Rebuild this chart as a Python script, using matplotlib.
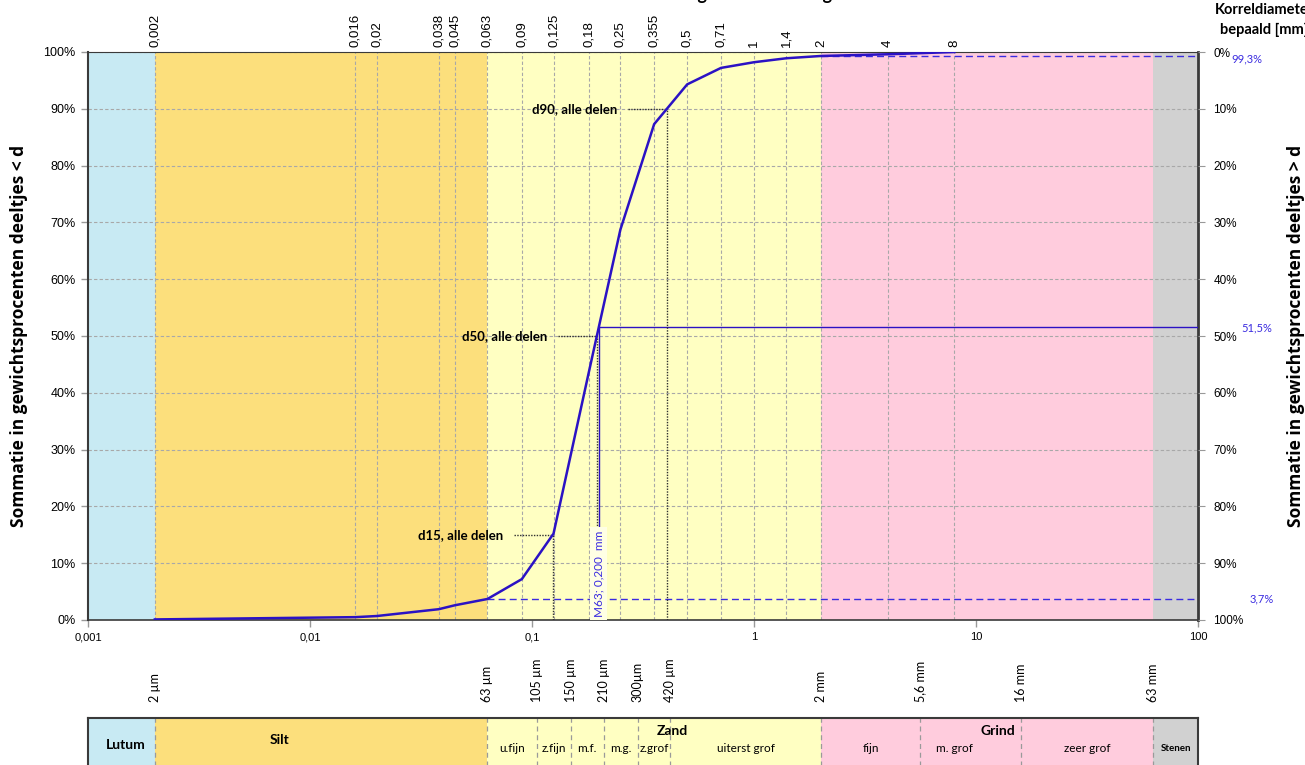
import numpy as np
import matplotlib
matplotlib.use("Agg")
import matplotlib.pyplot as plt
from matplotlib.transforms import blended_transform_factory

# ---- data -------------------------------------------------------------
sieve_mm = [0.002, 0.016, 0.02, 0.038, 0.045, 0.063, 0.09, 0.125, 0.18,
            0.25, 0.355, 0.5, 0.71, 1, 1.4, 2, 4, 8]
passing_pct = [0.1, 0.5, 0.7, 1.9, 2.6, 3.7, 7.2, 15.2, 43.5,
               68.7, 87.3, 94.3, 97.2, 98.2, 98.9, 99.3, 99.6, 100.0]
sieve_labels = ["0,002", "0,016", "0,02", "0,038", "0,045", "0,063", "0,09",
                "0,125", "0,18", "0,25", "0,355", "0,5", "0,71", "1", "1,4",
                "2", "4", "8"]

d_levels = [15, 50, 90]
d_names = ["d15, alle delen", "d50, alle delen", "d90, alle delen"]

m63_mm = 0.200
m63_pct = 51.5
fines_mm, fines_pct = 0.063, 3.7
gravel_mm, gravel_pct = 2, 99.3

x_ticks = [0.001, 0.01, 0.1, 1, 10, 100]
x_tick_labels = ["0,001", "0,01", "0,1", "1", "10", "100"]
y_ticks = [0, 10, 20, 30, 40, 50, 60, 70, 80, 90, 100]

# main soil classes (mm)
class_bounds = [0.001, 0.002, 0.063, 2, 63, 100]
class_names = ["Lutum", "Silt", "Zand", "Grind", "Stenen"]
class_colors = ["#C8EAF3", "#FCDF7C", "#FFFFC2", "#FFCCDD", "#D1D1D1"]

# sub classes and their boundaries (mm)
bound_mm = [0.002, 0.063, 0.105, 0.15, 0.21, 0.3, 0.42, 2, 5.6, 16, 63]
bound_labels = ["2 µm", "63 µm", "105 µm", "150 µm", "210 µm", "300µm",
                "420 µm", "2 mm", "5,6 mm", "16 mm", "63 mm"]
sub_names = ["u.fijn", "z.fijn", "m.f.", "m.g.", "z.grof", "uiterst grof",
             "fijn", "m. grof", "zeer grof"]

# ---- style --------------------------------------------------------------
plt.rcParams["font.family"] = ["Liberation Sans", "DejaVu Sans"]
LBL = ["Lato", "DejaVu Sans"]
AXL = ["Open Sans", "DejaVu Sans"]
BLUE = "#2B12C4"
LBLUE = "#3A2BE0"
GRID = "#A8A8A8"
DASH = (0, (3, 2))
SPINE = "#3A3A3A"

W, H = 1305, 765
fig = plt.figure(figsize=(W / 100, H / 100), dpi=100)


def px_box(left, top, right, bottom):
    return [left / W, 1 - bottom / H, (right - left) / W, (bottom - top) / H]


ax = fig.add_axes(px_box(88, 52, 1198, 620))
ax.set_xscale("log")
ax.set_xlim(class_bounds[0], class_bounds[-1])
ax.set_ylim(0, 100)

# class background bands
for lo, hi, c in zip(class_bounds[:-1], class_bounds[1:], class_colors):
    ax.axvspan(lo, hi, color=c, lw=0, zorder=0)

# grid: horizontal at every 10 %, vertical at every sieve
ax.set_yticks(y_ticks)
ax.set_yticklabels([f"{v}%" for v in y_ticks], fontsize=9)
ax.yaxis.grid(True, color=GRID, ls=DASH, lw=0.8)
for s in sieve_mm:
    ax.axvline(s, color=GRID, ls=DASH, lw=0.8, zorder=1.5)

ax.set_xticks(x_ticks)
ax.set_xticklabels(x_tick_labels, fontsize=8)
ax.xaxis.set_minor_locator(plt.NullLocator())
ax.tick_params(axis="both", direction="out", length=5, color="#999999",
               width=1, pad=4)

for side in ["left", "right", "top", "bottom"]:
    ax.spines[side].set_color(SPINE)
ax.spines["left"].set_linewidth(1.5)
ax.spines["right"].set_linewidth(2)
ax.spines["bottom"].set_linewidth(1.2)
ax.spines["top"].set_linewidth(0.8)

# grading curve
ax.plot(sieve_mm, passing_pct, color=BLUE, lw=1.8, zorder=5)

# fines / gravel reference lines
ax.plot([fines_mm, class_bounds[-1]], [fines_pct, fines_pct], color=LBLUE,
        lw=1, ls=(0, (5, 3)), zorder=4)
ax.plot([gravel_mm, class_bounds[-1]], [gravel_pct, gravel_pct], color=LBLUE,
        lw=1, ls=(0, (5, 3)), zorder=4)

# median (M63) marker lines
ax.plot([m63_mm, class_bounds[-1]], [m63_pct, m63_pct], color=BLUE, lw=1,
        zorder=4)
ax.plot([m63_mm, m63_mm], [0, m63_pct], color=BLUE, lw=1, zorder=4)

# d-values by log interpolation of the curve
log_s = np.log10(sieve_mm)
for lvl, name in zip(d_levels, d_names):
    d = 10 ** np.interp(lvl, passing_pct, log_s)
    ax.plot([d, d], [0, lvl], color="#303030", lw=1, ls=(0, (1, 1)), zorder=4.5)
    ax.plot([d / 10 ** 0.176, d], [lvl, lvl], color="#303030", lw=1,
            ls=(0, (1, 1)), zorder=4.5)
    ax.text(d / 10 ** 0.224, lvl, name, ha="right", va="center",
            fontsize=9.5, fontweight="bold", family=LBL, zorder=6)

ax.text(m63_mm, 0.6, f"M63; {m63_mm:.3f}  mm".replace(".", ","),
        rotation=90, ha="center", va="bottom", fontsize=8.5, color=LBLUE,
        family=LBL, zorder=6,
        bbox=dict(boxstyle="square,pad=0.25", fc="#FFFFE4", ec="none"))

# sieve labels along the top
top_tr = blended_transform_factory(ax.transData, ax.transAxes)
for s, lab in zip(sieve_mm, sieve_labels):
    ax.text(s, 1.009, lab, rotation=90, ha="center", va="bottom",
            fontsize=9.5, transform=top_tr)

# value labels to the right
right_tr = blended_transform_factory(ax.transAxes, ax.transData)
for val, xo in [(gravel_pct, 1.044), (m63_pct, 1.053), (fines_pct, 1.057)]:
    ax.text(xo, val - (0.6 if val > 99 else 0), f"{val:.1f}%".replace(".", ","),
            transform=right_tr, ha="center", va="center", fontsize=8,
            color=LBLUE, family=LBL)

ax.set_ylabel("Sommatie in gewichtsprocenten deeltjes < d", fontsize=12.5,
              fontweight="bold", family=AXL, labelpad=11)

# right-hand axis: fraction retained
ax2 = ax.twinx()
ax2.set_ylim(100, 0)
ax2.set_yticks(y_ticks)
ax2.set_yticklabels([f"{v}%" for v in y_ticks], fontsize=8.5)
ax2.tick_params(axis="y", direction="out", length=5, color="#999999", pad=6)
for side in ["left", "right", "top", "bottom"]:
    ax2.spines[side].set_visible(False)
fig.text(1296 / W, 1 - 336 / H, "Sommatie in gewichtsprocenten deeltjes > d",
         rotation=90, ha="center", va="center", fontsize=12.5,
         fontweight="bold", family=AXL)

fig.text(0.567, 1.0, "Korrelgrootteverdeling", ha="center", va="baseline",
         fontsize=13, fontweight="bold", family=LBL)
fig.text(1264 / W, 1 - 20 / H, "Korreldiameter\nbepaald [mm]", ha="center",
         va="center", fontsize=10.5, fontweight="bold", family=LBL,
         linespacing=1.55)

# ---- classification bar ----------------------------------------------------
bar = fig.add_axes(px_box(88, 718, 1198, 772))
bar.set_xscale("log")
bar.set_xlim(class_bounds[0], class_bounds[-1])
bar.set_ylim(0, 1)
bar.set_xticks([])
bar.set_yticks([])
bar.xaxis.set_minor_locator(plt.NullLocator())
for lo, hi, c in zip(class_bounds[:-1], class_bounds[1:], class_colors):
    bar.axvspan(lo, hi, color=c, lw=0, zorder=0)
for b in bound_mm:
    bar.axvline(b, color="#9A9A9A", ls=(0, (4, 3)), lw=0.9, zorder=1)
for side in ["left", "right", "top", "bottom"]:
    bar.spines[side].set_color(SPINE)
    bar.spines[side].set_linewidth(1.5)

bar_tr = blended_transform_factory(bar.transData, bar.transAxes)
for b, lab in zip(bound_mm, bound_labels):
    bar.text(b, 1.30, lab, rotation=90, ha="center", va="bottom",
             fontsize=9, family=LBL, transform=bar_tr)

# sub-class names, centred between their boundaries (log scale)
sub_lo = bound_mm[1:-1]
sub_hi = bound_mm[2:]
for lo, hi, name in zip(sub_lo, sub_hi, sub_names):
    xc = np.sqrt(lo * hi)
    if name == "m. grof":
        xc = xc / 10 ** 0.075
    bar.text(xc, 0.44, name, ha="center", va="center", fontsize=8.5,
             family=LBL, transform=bar_tr)

bar.text(np.sqrt(class_bounds[0] * class_bounds[1]) * 1.05, 0.5, "Lutum",
         ha="center", va="center", fontsize=10, fontweight="bold",
         family=LBL, transform=bar_tr)
bar.text(0.0073, 0.59, "Silt", ha="center", va="center", fontsize=10,
         fontweight="bold", family=LBL, transform=bar_tr)
bar.text(0.43, 0.76, "Zand", ha="center", va="center", fontsize=10,
         fontweight="bold", family=LBL, transform=bar_tr)
bar.text(12.5, 0.76, "Grind", ha="center", va="center", fontsize=10,
         fontweight="bold", family=LBL, transform=bar_tr)
bar.text(np.sqrt(class_bounds[4] * class_bounds[5]), 0.44, "Stenen",
         ha="center", va="center", fontsize=7, fontweight="bold",
         family=LBL, transform=bar_tr)

fig.savefig("out.png", dpi=100)
